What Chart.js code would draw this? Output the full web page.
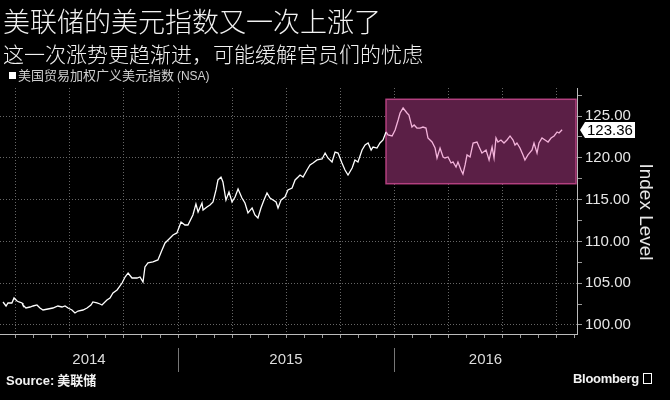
<!DOCTYPE html>
<html>
<head>
<meta charset="utf-8">
<script src="https://cdn.jsdelivr.net/npm/chart.js@4.4.1/dist/chart.umd.min.js"></script>
<style>
  body { margin: 0; background: #000; }
  #wrap { position: relative; width: 670px; height: 400px; overflow: hidden; background: #000; }
  canvas { position: absolute; left: 0; top: 0; }
  .txt { position: absolute; white-space: nowrap; color: #f2f2f2; font-family: "Noto Sans CJK SC", sans-serif; }
  #title { left: 3px; top: 5px; font-size: 27px; line-height: 32px; font-weight: 300; }
  #subtitle { left: 3px; top: 40px; font-size: 21px; line-height: 26px; font-weight: 300; }
  #legend { left: 9px; top: 66px; font-size: 13px; line-height: 18px; color: #d0d0d0; }
  #legend i { display: inline-block; width: 7px; height: 7px; background: #fff; margin-right: 2px; vertical-align: 1px; }
  #legend em { font-style: normal; font-family: "Liberation Sans", sans-serif; font-size: 12px; }
  #source { left: 6px; top: 371px; font-size: 13px; line-height: 18px; font-weight: bold; }
  #source b { font-family: "Liberation Sans", sans-serif; }
  #brand { left: 573px; top: 370px; font-size: 13px; line-height: 18px; font-weight: bold; font-family: "Liberation Sans", sans-serif; letter-spacing: -0.3px; }
  #brand span { display: inline-block; width: 7px; height: 9px; border: 1.5px solid #fff; margin-left: 4px; vertical-align: -1px; }
</style>
</head>
<body>
<div id="wrap">
  <canvas id="chart" width="670" height="400"></canvas>
  <div class="txt" id="title">美联储的美元指数又一次上涨了</div>
  <div class="txt" id="subtitle">这一次涨势更趋渐进，可能缓解官员们的忧虑</div>
  <div class="txt" id="legend"><i></i>美国贸易加权广义美元指数 <em>(NSA)</em></div>
  <div class="txt" id="source"><b>Source:</b> 美联储</div>
  <div class="txt" id="brand">Bloomberg<span></span></div>
</div>
<script>
// trade-weighted broad dollar index, dates as decimal years
const dates = [
  2014.190, 2014.204, 2014.213, 2014.231, 2014.241, 2014.255, 2014.264, 2014.278, 2014.282, 2014.296,
  2014.315, 2014.329, 2014.347, 2014.361, 2014.375, 2014.398, 2014.421, 2014.444, 2014.463, 2014.477,
  2014.491, 2014.509, 2014.523, 2014.537, 2014.560, 2014.579, 2014.597, 2014.606, 2014.625, 2014.639,
  2014.648, 2014.671, 2014.685, 2014.699, 2014.718, 2014.741, 2014.755, 2014.769, 2014.787, 2014.810,
  2014.824, 2014.838, 2014.847, 2014.861, 2014.884, 2014.907, 2014.926, 2014.940, 2014.954, 2014.977,
  2014.995, 2015.014, 2015.032, 2015.046, 2015.069, 2015.083, 2015.093, 2015.111, 2015.116, 2015.134,
  2015.148, 2015.162, 2015.176, 2015.185, 2015.199, 2015.208, 2015.222, 2015.236, 2015.250, 2015.264,
  2015.278, 2015.296, 2015.310, 2015.324, 2015.343, 2015.356, 2015.370, 2015.384, 2015.398, 2015.412,
  2015.426, 2015.440, 2015.454, 2015.463, 2015.477, 2015.495, 2015.509, 2015.528, 2015.542, 2015.556,
  2015.565, 2015.579, 2015.597, 2015.611, 2015.625, 2015.644, 2015.667, 2015.681, 2015.694, 2015.713,
  2015.727, 2015.741, 2015.759, 2015.773, 2015.787, 2015.806, 2015.819, 2015.833, 2015.852, 2015.866,
  2015.880, 2015.894, 2015.903, 2015.921, 2015.935, 2015.949, 2015.963, 2015.972, 2015.991, 2016.005,
  2016.019, 2016.028, 2016.042, 2016.060, 2016.069, 2016.083, 2016.093, 2016.106, 2016.120, 2016.134,
  2016.148, 2016.157, 2016.176, 2016.190, 2016.199, 2016.213, 2016.227, 2016.236, 2016.250, 2016.264,
  2016.273, 2016.287, 2016.296, 2016.310, 2016.319, 2016.329, 2016.338, 2016.352, 2016.366, 2016.384,
  2016.394, 2016.407, 2016.426, 2016.440, 2016.454, 2016.463, 2016.472, 2016.481, 2016.495, 2016.509,
  2016.523, 2016.537, 2016.551, 2016.560, 2016.569, 2016.583, 2016.597, 2016.606, 2016.620, 2016.639,
  2016.648, 2016.662, 2016.671, 2016.685, 2016.699, 2016.713, 2016.727, 2016.741, 2016.755, 2016.764,
  2016.778
];
const indexValues = [
  102.75, 102.27, 102.63, 102.63, 103.23, 102.87, 102.75, 102.63, 102.39, 102.03,
  102.15, 102.27, 102.39, 102.03, 101.79, 101.91, 102.03, 102.27, 102.15, 102.27,
  102.03, 101.79, 101.43, 101.67, 101.79, 102.03, 102.39, 102.75, 102.63, 102.51,
  102.39, 102.99, 103.23, 103.83, 104.19, 105.02, 105.74, 106.22, 105.62, 105.62,
  105.74, 105.14, 106.94, 107.42, 107.54, 107.78, 108.97, 109.81, 110.17, 110.77,
  111.01, 112.32, 111.96, 111.96, 113.16, 114.47, 113.52, 114.59, 113.76, 114.12,
  114.36, 114.71, 116.15, 117.35, 117.70, 117.11, 114.95, 115.91, 114.71, 115.31,
  116.27, 115.19, 114.59, 113.40, 114.00, 113.16, 112.80, 114.00, 114.95, 115.79,
  115.19, 114.95, 114.71, 114.00, 114.95, 115.31, 116.15, 116.39, 117.35, 117.70,
  117.94, 117.70, 118.54, 119.14, 119.38, 119.74, 119.86, 120.57, 119.98, 119.50,
  120.69, 120.57, 119.38, 118.54, 117.94, 118.78, 119.74, 119.50, 120.93, 121.53,
  121.77, 120.93, 121.29, 121.17, 121.77, 122.13, 123.09, 122.73, 122.61, 123.33,
  124.52, 125.36, 125.96, 125.36, 125.12, 123.68, 123.92, 123.56, 123.56, 123.68,
  123.56, 122.37, 121.89, 121.17, 119.98, 121.17, 120.10, 119.98, 120.10, 119.38,
  119.50, 118.90, 119.50, 118.54, 118.06, 119.14, 120.34, 120.10, 121.77, 121.89,
  121.29, 120.57, 120.93, 119.74, 121.29, 119.98, 122.37, 121.89, 122.13, 121.77,
  122.13, 122.61, 122.13, 121.53, 121.77, 121.17, 120.34, 119.74, 120.34, 120.93,
  121.77, 120.57, 121.77, 122.37, 122.13, 121.89, 122.37, 122.61, 123.09, 122.97,
  123.36
];
const yearLabels = [2014, 2015, 2016];
const yTicks = [100, 105, 110, 115, 120, 125];
const xRange = [2014.176, 2016.847];
const yRange = [98.92, 128.35];
const highlightStart = 2015.963;
const highlightBand = [116.9, 127.0];

const white = '#ffffff';
const pink = '#f3b3da';

const highlightBox = {
  id: 'highlightBox',
  beforeDatasetsDraw(chart) {
    const { ctx, chartArea, scales: { x, y } } = chart;
    const left = x.getPixelForValue(highlightStart);
    const right = chartArea.right - 1;
    const top = y.getPixelForValue(highlightBand[1]);
    const bottom = y.getPixelForValue(highlightBand[0]);
    ctx.save();
    ctx.fillStyle = '#5b1f46';
    ctx.fillRect(left, top, right - left, bottom - top);
    ctx.strokeStyle = '#b3407f';
    ctx.lineWidth = 1.5;
    ctx.strokeRect(left, top, right - left, bottom - top);
    ctx.restore();
  }
};

const extras = {
  id: 'extras',
  afterDraw(chart) {
    const { ctx, chartArea, scales: { x, y } } = chart;
    ctx.save();
    // year labels centred on the visible part of each year
    ctx.font = '15px "Liberation Sans", sans-serif';
    ctx.fillStyle = '#dddddd';
    ctx.textAlign = 'center';
    ctx.textBaseline = 'middle';
    yearLabels.forEach(yr => {
      const a = x.getPixelForValue(Math.max(yr, xRange[0]));
      const b = x.getPixelForValue(Math.min(yr + 1, xRange[1]));
      ctx.fillText(String(yr), (a + b) / 2, 360);
      if (yr > xRange[0]) {
        const px = Math.round(x.getPixelForValue(yr)) + 0.5;
        ctx.strokeStyle = '#777';
        ctx.lineWidth = 1;
        ctx.beginPath();
        ctx.moveTo(px, 348);
        ctx.lineTo(px, 372);
        ctx.stroke();
      }
    });

    // axis title
    ctx.save();
    ctx.translate(645, 212);
    ctx.rotate(Math.PI / 2);
    ctx.font = '19px "Liberation Sans", sans-serif';
    ctx.fillStyle = '#e6e6e6';
    ctx.fillText('Index Level', 0, 0);
    ctx.restore();

    // last value tag
    const last = indexValues[indexValues.length - 1];
    const ty = Math.round(y.getPixelForValue(last));
    const tx = chartArea.right + 3;
    ctx.fillStyle = '#ffffff';
    ctx.beginPath();
    ctx.moveTo(tx, ty);
    ctx.lineTo(tx + 5, ty - 8);
    ctx.lineTo(tx + 55, ty - 8);
    ctx.lineTo(tx + 55, ty + 8);
    ctx.lineTo(tx + 5, ty + 8);
    ctx.closePath();
    ctx.fill();
    ctx.fillStyle = '#000';
    ctx.font = '15px "Liberation Sans", sans-serif';
    ctx.textAlign = 'left';
    ctx.fillText(last.toFixed(2), tx + 7, ty + 1);
    ctx.restore();
  }
};

const isQuarter = v => Math.abs(v * 4 - Math.round(v * 4)) < 1e-6;
const isMonth = v => Math.abs(v * 12 - Math.round(v * 12)) < 1e-6;
const isFive = v => Math.abs(v / 5 - Math.round(v / 5)) < 1e-6;

new Chart(document.getElementById('chart'), {
  type: 'line',
  data: {
    datasets: [{
      data: dates.map((d, i) => ({ x: d, y: indexValues[i] })),
      borderColor: white,
      borderWidth: 1.3,
      pointRadius: 0,
      tension: 0,
      segment: {
        borderColor: c => c.p0.parsed.x >= highlightStart - 1e-6 ? pink : white
      }
    }]
  },
  options: {
    responsive: false,
    animation: false,
    devicePixelRatio: 1,
    layout: { padding: { top: 88, left: 0, right: 0, bottom: 0 } },
    plugins: { legend: { display: false }, tooltip: { enabled: false } },
    scales: {
      x: {
        type: 'linear',
        min: xRange[0],
        max: xRange[1],
        afterFit: s => { s.height = 66; },
        ticks: { display: false, stepSize: 1 / 12, includeBounds: false },
        border: { display: true, color: '#bbbbbb', width: 1, dash: [1, 2] },
        grid: {
          color: c => isQuarter(c.tick.value) ? '#666666' : 'rgba(0,0,0,0)',
          tickColor: c => isMonth(c.tick.value) ? '#999999' : 'rgba(0,0,0,0)',
          tickLength: 4,
          lineWidth: 1
        }
      },
      y: {
        type: 'linear',
        position: 'right',
        min: yRange[0],
        max: yRange[1],
        afterFit: s => { s.width = 93; },
        ticks: {
          stepSize: 2.5,
          includeBounds: false,
          autoSkip: false,
          color: '#e6e6e6',
          font: { family: '"Liberation Sans", sans-serif', size: 15 },
          padding: 3,
          callback: v => yTicks.includes(v) ? v.toFixed(2) : ''
        },
        border: { display: true, color: '#bbbbbb', width: 1, dash: [1, 2] },
        grid: {
          color: c => isFive(c.tick.value) ? '#666666' : 'rgba(0,0,0,0)',
          tickColor: '#999999',
          tickLength: 5,
          lineWidth: 1
        }
      }
    }
  },
  plugins: [highlightBox, extras]
});
</script>
</body>
</html>
